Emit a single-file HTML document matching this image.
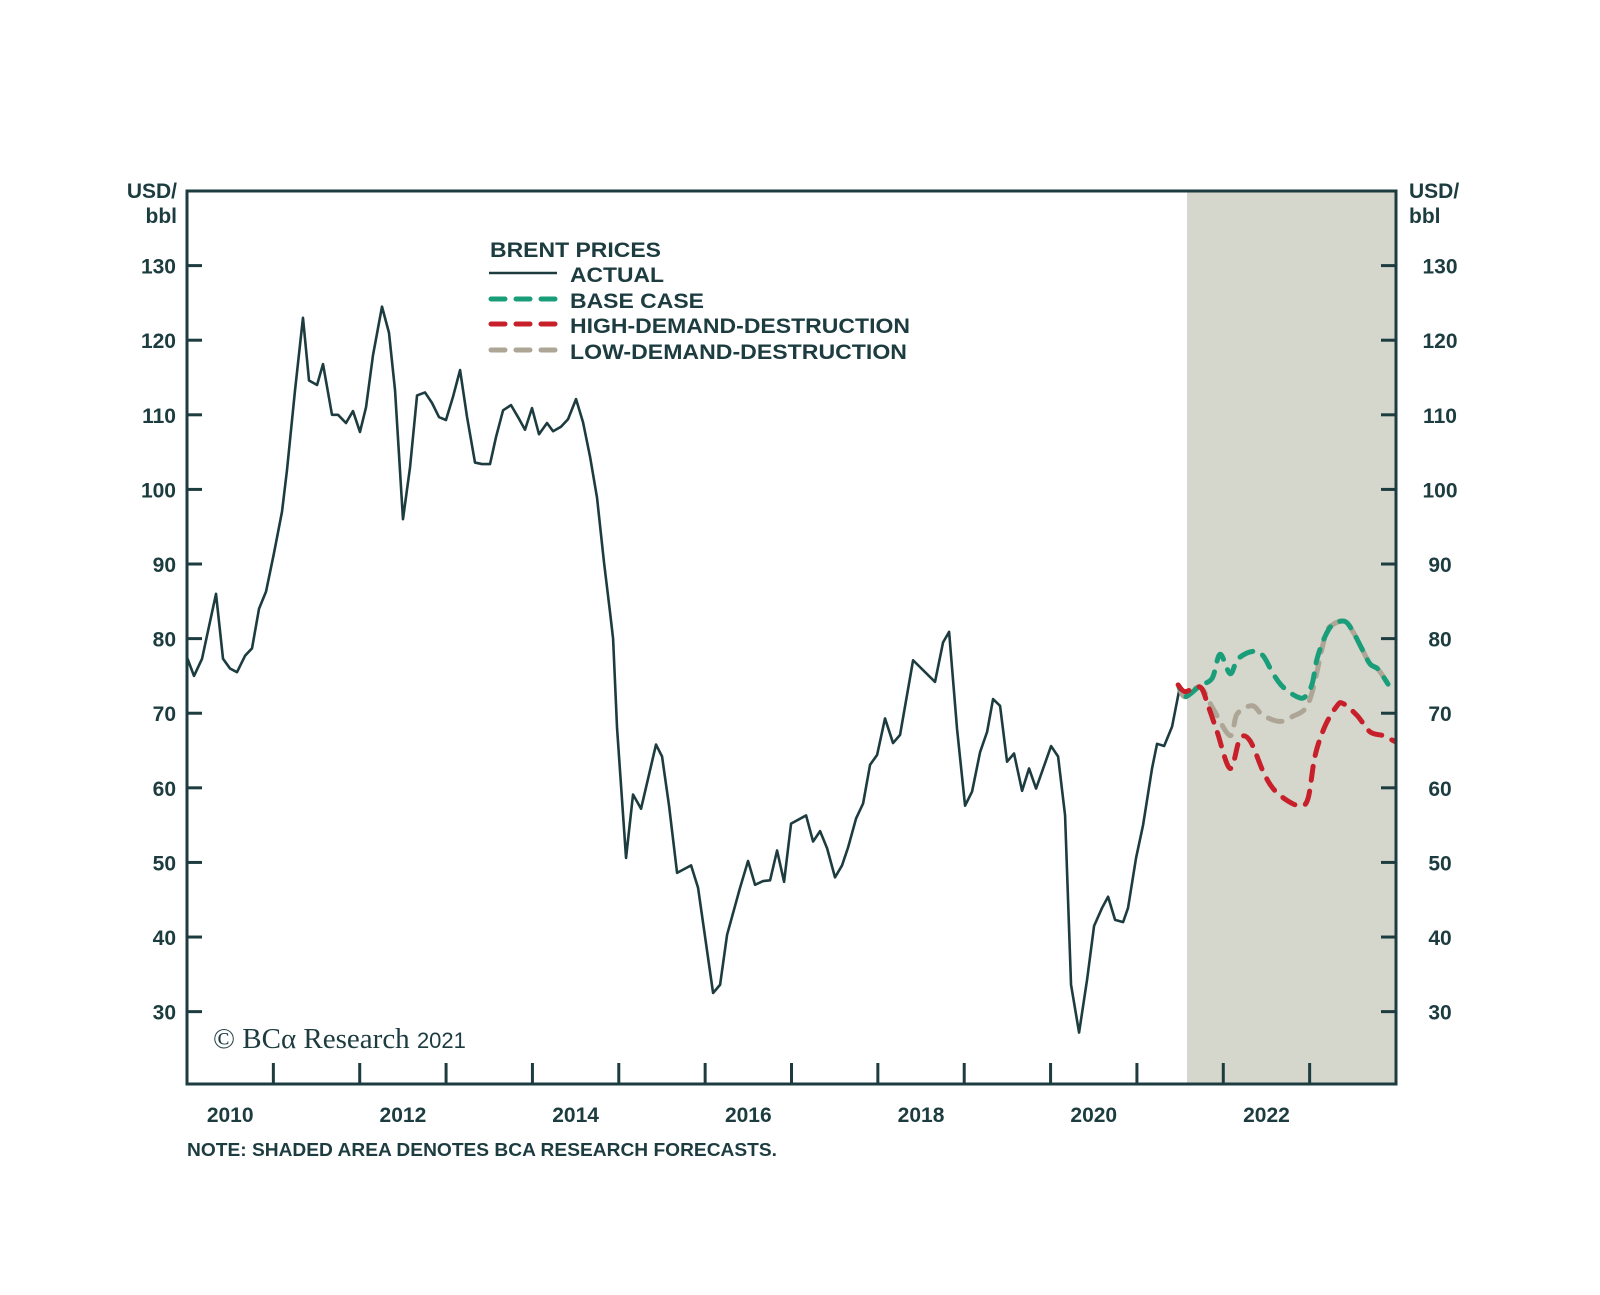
<!DOCTYPE html>
<html><head><meta charset="utf-8"><style>
html,body{margin:0;padding:0;background:#fff;}
svg{display:block;}
text{font-family:"Liberation Sans",Arial,sans-serif;fill:#1d3c40;font-weight:bold;}
</style></head><body>
<svg id="chart" width="1600" height="1295" viewBox="0 0 1600 1295" xmlns="http://www.w3.org/2000/svg">
<rect x="1187" y="191" width="209" height="893" fill="#d5d6cc"/>
<g id="ticks"></g>
<g id="series"></g>
<rect x="187" y="191" width="1209" height="893" fill="none" stroke="#1d3c40" stroke-width="3"/>
<g id="labels"></g>
<text x="177" y="198" text-anchor="end" font-size="21">USD/</text>
<text x="177" y="223" text-anchor="end" font-size="21">bbl</text>
<text x="1409" y="198" font-size="21">USD/</text>
<text x="1409" y="223" font-size="21">bbl</text>
<g>
<text x="490" y="257" font-size="21" textLength="171" lengthAdjust="spacingAndGlyphs">BRENT PRICES</text>
<line x1="489" y1="273" x2="557" y2="273" stroke="#1d3c40" stroke-width="2.5"/>
<text x="570" y="282" font-size="21" textLength="94" lengthAdjust="spacingAndGlyphs">ACTUAL</text>
<line x1="491" y1="299" x2="557" y2="299" stroke="#1a9e7a" stroke-width="5" stroke-dasharray="14 11" stroke-linecap="round"/>
<text x="570" y="308" font-size="21" textLength="134" lengthAdjust="spacingAndGlyphs">BASE CASE</text>
<line x1="491" y1="324" x2="557" y2="324" stroke="#c8202a" stroke-width="5" stroke-dasharray="14 11" stroke-linecap="round"/>
<text x="570" y="333" font-size="21" textLength="340" lengthAdjust="spacingAndGlyphs">HIGH-DEMAND-DESTRUCTION</text>
<line x1="491" y1="350" x2="557" y2="350" stroke="#ada595" stroke-width="5" stroke-dasharray="14 11" stroke-linecap="round"/>
<text x="570" y="359" font-size="21" textLength="337" lengthAdjust="spacingAndGlyphs">LOW-DEMAND-DESTRUCTION</text>
</g>
<text x="213" y="1048" font-size="29" style="font-family:'Liberation Serif',serif;font-weight:normal">© BCα Research <tspan style="font-family:'Liberation Sans',sans-serif;font-weight:normal" font-size="22">2021</tspan></text>
<text x="187" y="1156" font-size="18" textLength="590" lengthAdjust="spacingAndGlyphs">NOTE: SHADED AREA DENOTES BCA RESEARCH FORECASTS.</text>
</svg>
<script>
const actualDates=[2010.0,2010.081,2010.174,2010.336,2010.417,2010.498,2010.579,2010.672,2010.753,2010.834,2010.915,2011.008,2011.100,2011.158,2011.251,2011.343,2011.413,2011.506,2011.575,2011.679,2011.749,2011.841,2011.922,2012.003,2012.073,2012.154,2012.258,2012.339,2012.409,2012.501,2012.583,2012.664,2012.756,2012.837,2012.918,2012.999,2013.080,2013.162,2013.243,2013.335,2013.416,2013.509,2013.578,2013.660,2013.752,2013.833,2013.914,2013.995,2014.076,2014.169,2014.239,2014.331,2014.412,2014.505,2014.586,2014.667,2014.748,2014.829,2014.899,2014.934,2014.980,2015.084,2015.165,2015.258,2015.431,2015.501,2015.582,2015.675,2015.837,2015.918,2016.092,2016.173,2016.254,2016.404,2016.497,2016.578,2016.671,2016.752,2016.833,2016.914,2016.995,2017.169,2017.250,2017.331,2017.412,2017.504,2017.585,2017.655,2017.748,2017.829,2017.910,2017.991,2018.083,2018.176,2018.257,2018.408,2018.662,2018.755,2018.825,2018.917,2019.010,2019.091,2019.184,2019.265,2019.334,2019.415,2019.496,2019.577,2019.670,2019.751,2019.832,2020.006,2020.087,2020.168,2020.237,2020.330,2020.423,2020.504,2020.596,2020.666,2020.747,2020.840,2020.897,2020.990,2021.071,2021.175,2021.233,2021.315,2021.407,2021.488];
const actualValues=[77.5,75,77.3,86,77.3,76,75.5,77.7,78.7,84,86.3,91.5,97,102.6,113.3,123,114.6,114,116.8,110,110,108.9,110.5,107.7,111,118,124.5,121,113.3,96,103,112.6,113,111.6,109.7,109.3,112.4,116,109.7,103.6,103.4,103.4,107,110.6,111.3,109.7,108,110.9,107.4,108.9,107.8,108.4,109.4,112.1,109,104.4,98.9,90.2,83.5,80,68,50.6,59.1,57.2,65.8,64.2,57.6,48.6,49.6,46.6,32.5,33.6,40.3,46.6,50.2,47,47.5,47.6,51.6,47.4,55.2,56.3,52.8,54.2,51.9,48,49.6,52,55.9,57.9,63.1,64.4,69.3,66,67.1,77.1,74.2,79.5,80.9,67.9,57.6,59.5,64.8,67.5,71.9,71,63.5,64.6,59.6,62.6,59.9,65.6,64.2,56.3,33.6,27.2,34.3,41.5,43.9,45.4,42.3,42,43.9,50.6,55,62.6,65.9,65.6,68.2,73];
const baseDates=[2021.488,2021.558,2021.732,2021.871,2021.963,2022.079,2022.171,2022.345,2022.461,2022.577,2022.693,2022.855,2022.947,2023.028,2023.086,2023.179,2023.271,2023.410,2023.503,2023.607,2023.700,2023.792,2023.908];
const baseValues=[73.5,72.2,73.7,74.7,77.9,75.3,77.3,78.3,77.7,75.3,73.5,72.2,72.2,73.9,77.3,80.3,81.9,82.3,80.9,78.6,76.6,75.9,73.9];
const lowDates=[2021.488,2021.558,2021.732,2021.882,2022.079,2022.160,2022.334,2022.461,2022.658,2022.808,2022.947,2023.040,2023.179,2023.271,2023.410,2023.503,2023.607,2023.700,2023.792,2023.908];
const lowValues=[73.5,72.2,73.5,70.6,67,69.9,71,69.7,68.9,69.6,70.6,73.3,80.3,81.9,82.3,80.9,78.6,76.6,75.9,73.9];
const highDates=[2021.477,2021.558,2021.732,2021.824,2021.929,2022.079,2022.194,2022.310,2022.461,2022.577,2022.739,2022.889,2022.982,2023.063,2023.179,2023.318,2023.387,2023.549,2023.700,2023.850,2023.989];
const highValues=[73.8,72.9,73.5,71,67.5,62.6,66.6,66.3,62.2,59.9,58.3,57.6,58.6,64.3,68.3,71,71.3,69.7,67.5,67,66.2];
const yTicks=[30,40,50,60,70,80,90,100,110,120,130];
const xLabels=[2010,2012,2014,2016,2018,2020,2022];

const NS="http://www.w3.org/2000/svg";
const X0=187,X1=1396,T0=2010,T1=2024;
const Y_TOP=191,Y_BOT=1084,V_TOP=140.0,V_BOT=20.3;
function xs(t){return X0+(t-T0)/(T1-T0)*(X1-X0);}
function ys(v){return Y_BOT-(v-V_BOT)/(V_TOP-V_BOT)*(Y_BOT-Y_TOP);}
function mk(tag,attrs,parent){const e=document.createElementNS(NS,tag);for(const k in attrs)e.setAttribute(k,attrs[k]);parent.appendChild(e);return e;}
const ticksG=document.getElementById('ticks'),labG=document.getElementById('labels'),serG=document.getElementById('series');
yTicks.forEach(v=>{
  const y=ys(v);
  const l1=mk('line',{x1:X0,x2:X0+15,y1:y,y2:y,stroke:'#1d3c40','stroke-width':3},ticksG);
  
  
  const l2=mk('line',{x1:X1-15,x2:X1,y1:y,y2:y,stroke:'#1d3c40','stroke-width':3},ticksG);
  
  
  const t1=mk('text',{x:176,y:y+8,'text-anchor':'end','font-size':21},labG);
  t1.textContent=v;
  
  
  const t2=mk('text',{x:1440,y:y+8,'text-anchor':'middle','font-size':21},labG);
  t2.textContent=v;
  
  
});
for(let yr=T0+1;yr<T1;yr++){
  const x=xs(yr);
  const l=mk('line',{x1:x,x2:x,y1:Y_BOT,y2:Y_BOT-21,stroke:'#1d3c40','stroke-width':3},ticksG);
  
  
}
xLabels.forEach(yr=>{
  const t=mk('text',{x:xs(yr+0.5),y:1122,'text-anchor':'middle','font-size':21},labG);
  t.textContent=yr;
  
  
});
function smoothPath(d,v){
  const p=d.map((t,i)=>[xs(t),ys(v[i])]);
  let s='M'+p[0][0]+','+p[0][1];
  for(let i=0;i<p.length-1;i++){
    const a=p[i-1]||p[i],b=p[i],c=p[i+1],e=p[i+2]||c;
    s+=' C'+(b[0]+(c[0]-a[0])/6)+','+(b[1]+(c[1]-a[1])/6)+' '+(c[0]-(e[0]-b[0])/6)+','+(c[1]-(e[1]-b[1])/6)+' '+c[0]+','+c[1];
  }
  return s;
}
const act=mk('polyline',{points:actualDates.map((t,i)=>xs(t)+','+ys(actualValues[i])).join(' '),fill:'none',stroke:'#1d3c40','stroke-width':2.6,'stroke-linejoin':'round'},serG);


const low=mk('path',{d:smoothPath(lowDates,lowValues),fill:'none',stroke:'#ada595','stroke-width':5,'stroke-dasharray':'14 11','stroke-linecap':'round'},serG);


const base=mk('path',{d:smoothPath(baseDates,baseValues),fill:'none',stroke:'#1a9e7a','stroke-width':5,'stroke-dasharray':'14 11','stroke-dashoffset':'12','stroke-linecap':'round'},serG);


const high=mk('path',{d:smoothPath(highDates,highValues),fill:'none',stroke:'#c8202a','stroke-width':5,'stroke-dasharray':'14 11','stroke-linecap':'round'},serG);


</script>
</body></html>
